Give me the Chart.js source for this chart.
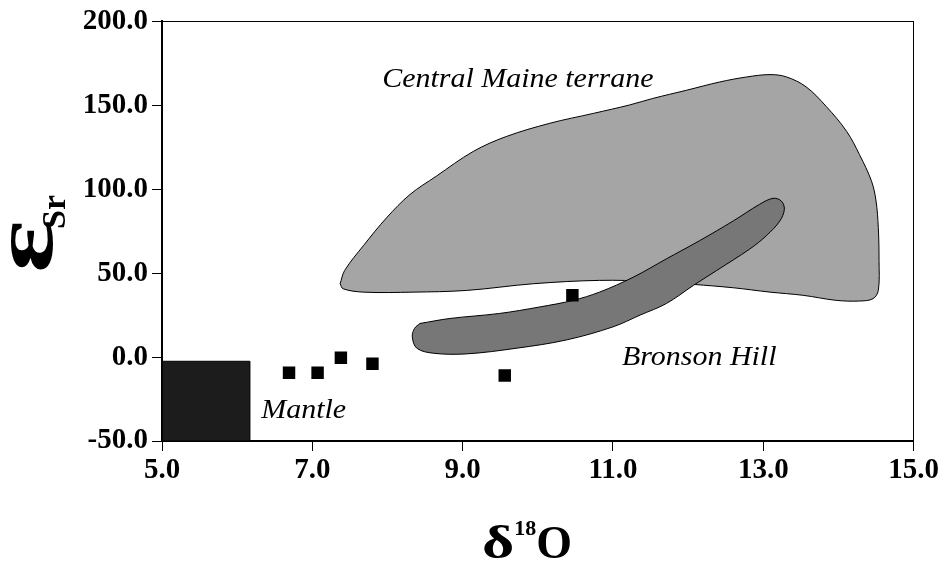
<!DOCTYPE html>
<html>
<head>
<meta charset="utf-8">
<script src="https://cdn.jsdelivr.net/npm/chart.js@4/dist/chart.umd.min.js"></script>
<style>
  html, body { margin: 0; padding: 0; background: #fff; }
  #wrap { width: 941px; height: 562px; }
</style>
</head>
<body>
<div id="wrap"><canvas id="chart" width="941" height="562"></canvas></div>
<script>
// measured samples (delta18O, epsilon Sr)
const sampleX = [6.69, 7.07, 7.38, 7.80, 9.56, 10.46];
const sampleY = [-9.3, -9.3, -0.4, -4.0, -11.0, 36.8];

// Central Maine terrane field outline
const terraneX = [7.37, 7.43, 7.68, 7.99, 8.30, 8.65, 9.14, 9.58, 10.16, 10.74, 11.22, 11.53, 11.98, 12.42, 12.78, 13.09, 13.31, 13.57, 13.84, 14.11, 14.28, 14.44, 14.50, 14.53, 14.54, 14.53, 14.46, 14.28, 13.97, 13.53, 13.09, 12.60, 12.07, 11.49, 10.82, 9.94, 9.05, 8.34, 7.68, 7.41, 7.37];
const terraneY = [43.7, 51.6, 66.4, 83.1, 96.9, 107.8, 122.5, 131.4, 139.3, 145.2, 150.2, 154.1, 159.0, 163.9, 166.9, 168.3, 166.9, 161.0, 149.2, 134.4, 120.6, 104.8, 93.0, 77.2, 57.5, 39.7, 34.8, 33.4, 33.8, 36.8, 38.7, 41.3, 43.3, 45.1, 45.7, 43.7, 39.7, 38.7, 38.7, 40.7, 43.7];

// Bronson Hill field outline
const bronsonX = [8.43, 8.83, 9.49, 10.03, 10.47, 10.82, 11.27, 11.71, 12.15, 12.60, 12.95, 13.13, 13.24, 13.28, 13.22, 13.04, 12.82, 12.38, 12.07, 11.71, 11.36, 11.00, 10.38, 9.72, 9.05, 8.61, 8.39, 8.33, 8.36, 8.43];
const bronsonY = [20.0, 23.0, 26.0, 29.9, 33.8, 38.7, 47.6, 58.5, 69.3, 81.1, 91.0, 94.6, 93.0, 88.1, 81.1, 72.3, 64.4, 51.6, 42.7, 31.9, 25.0, 18.0, 10.2, 5.3, 1.9, 2.3, 5.3, 12.1, 17.1, 20.0];

// Mantle box
const mantleX = [5.0, 6.17, 6.17, 5.0, 5.0];
const mantleY = [-50, -50, -2.5, -2.5, -50];

const xTickValues = [5, 7, 9, 11, 13, 15];
const yTickValues = [-50, 0, 50, 100, 150, 200];

const regionLabels = ['Central Maine terrane', 'Bronson Hill', 'Mantle'];
const regionLabelX = [7.93, 11.12, 6.32];
const regionLabelY = [161, -5.0, -36.5];

const pts = (xs, ys) => xs.map((v, i) => ({ x: v, y: ys[i] }));
const serif = '"Liberation Serif", "Times New Roman", serif';

const textPlugin = {
  id: 'texts',
  afterDraw(chart) {
    const { ctx, scales: { x, y } } = chart;
    ctx.save();
    ctx.fillStyle = '#000';
    ctx.textBaseline = 'alphabetic';
    ctx.textAlign = 'left';
    ctx.font = 'italic 28px ' + serif;
    regionLabels.forEach((t, i) => {
      ctx.save();
      ctx.translate(x.getPixelForValue(regionLabelX[i]), y.getPixelForValue(regionLabelY[i]));
      ctx.scale(1.07, 1);
      ctx.fillText(t, 0, 0);
      ctx.restore();
    });

    // x title: delta 18 O
    ctx.font = 'bold 46px ' + serif;
    const wd = ctx.measureText('δ').width * 1.35;
    const wo = ctx.measureText('O').width;
    ctx.font = 'bold 22px ' + serif;
    const ws = ctx.measureText('18').width;
    const sx = 527 - (wd + ws + wo) / 2;
    ctx.save();
    ctx.translate(sx, 558);
    ctx.scale(1.35, 1);
    ctx.font = 'bold 46px ' + serif;
    ctx.fillText('δ', 0, 0);
    ctx.restore();
    ctx.font = 'bold 22px ' + serif;
    ctx.fillText('18', sx + wd, 535);
    ctx.font = 'bold 46px ' + serif;
    ctx.fillText('O', sx + wd + ws, 558);

    // y title: epsilon Sr
    ctx.translate(52, 273);
    ctx.rotate(-Math.PI / 2);
    ctx.save();
    ctx.scale(1.45, 1);
    ctx.font = 'bold 86px ' + serif;
    ctx.fillText('ε', 0, 0);
    ctx.restore();
    ctx.font = 'bold 34px ' + serif;
    ctx.fillText('Sr', 44, 13);
    ctx.restore();
  }
};

const tickFont = { family: serif, size: 29, weight: 'bold' };

new Chart(document.getElementById('chart'), {
  type: 'scatter',
  data: {
    datasets: [
      {
        data: pts(sampleX, sampleY),
        pointStyle: 'rect',
        pointRadius: 8.8,
        backgroundColor: '#000',
        borderColor: '#000',
        borderWidth: 0,
        order: 0
      },
      {
        data: pts(mantleX, mantleY),
        showLine: true,
        fill: 'shape',
        backgroundColor: '#1c1c1c',
        borderColor: '#000',
        borderWidth: 1,
        pointRadius: 0,
        tension: 0,
        order: 1
      },
      {
        data: pts(bronsonX, bronsonY),
        showLine: true,
        fill: 'shape',
        backgroundColor: '#777777',
        borderColor: '#000',
        borderWidth: 1,
        pointRadius: 0,
        tension: 0.35,
        order: 2
      },
      {
        data: pts(terraneX, terraneY),
        showLine: true,
        fill: 'shape',
        backgroundColor: '#a5a5a5',
        borderColor: '#000',
        borderWidth: 1,
        pointRadius: 0,
        tension: 0.35,
        order: 3
      }
    ]
  },
  options: {
    responsive: false,
    animation: false,
    layout: { padding: { left: 72, right: 27, top: 19, bottom: 75 } },
    plugins: { legend: { display: false }, tooltip: { enabled: false } },
    scales: {
      x: {
        type: 'linear',
        min: 5, max: 15,
        afterBuildTicks: s => { s.ticks = xTickValues.map(v => ({ value: v })); },
        afterFit: s => { s.height = 46; },
        ticks: { font: tickFont, color: '#000', padding: 2, maxRotation: 0, autoSkip: false, callback: v => v.toFixed(1) },
        grid: { drawOnChartArea: false, drawTicks: true, tickLength: 10, color: '#000', lineWidth: 1 },
        border: { display: true, color: '#000', width: 2 }
      },
      y: {
        type: 'linear',
        min: -50, max: 200,
        afterBuildTicks: s => { s.ticks = yTickValues.map(v => ({ value: v })); },
        afterFit: s => { s.width = 90; },
        ticks: { font: tickFont, color: '#000', padding: 4, autoSkip: false, callback: v => v.toFixed(1) },
        grid: { drawOnChartArea: false, drawTicks: true, tickLength: 10, color: '#000', lineWidth: 1 },
        border: { display: true, color: '#000', width: 2 }
      },
      xTop: {
        type: 'linear', position: 'top', min: 5, max: 15,
        afterFit: s => { s.height = 0; },
        ticks: { display: false },
        grid: { display: false, drawTicks: false },
        border: { display: true, color: '#000', width: 1 }
      },
      yRight: {
        type: 'linear', position: 'right', min: -50, max: 200,
        afterFit: s => { s.width = 0; },
        ticks: { display: false },
        grid: { display: false, drawTicks: false },
        border: { display: true, color: '#000', width: 1 }
      }
    }
  },
  plugins: [textPlugin]
});
</script>
</body>
</html>
